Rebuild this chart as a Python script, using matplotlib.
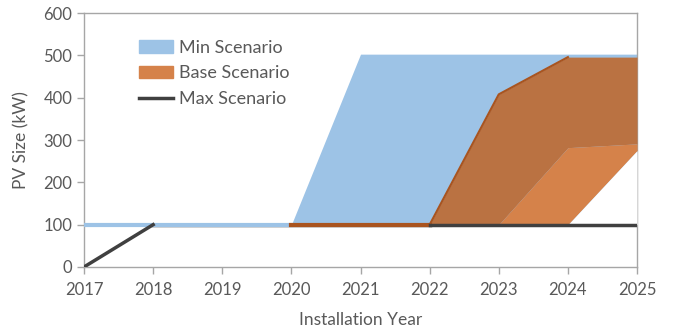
import numpy as np
import matplotlib.pyplot as plt

plt.rcParams['font.family'] = ['Lato', 'DejaVu Sans']

years = np.arange(2017, 2026)
# Min scenario (blue area, starts at 100 kW)
min_scenario = [100, 100, 100, 100, 503, 503, 503, 503, 503]
# Base scenario bands
base_high = [np.nan, np.nan, np.nan, 100, 100, 100, 408, 496, 496]
base_mid = [np.nan, np.nan, np.nan, 100, 100, 100, 100, 282, 291]
base_low = [np.nan, np.nan, np.nan, 100, 100, 100, 100, 100, 275]
# Max scenario (line)
max_scenario = [0, 100, 100, 100, 100, 100, 100, 100, 100]

blue = '#9DC3E6'
orange = '#D5824A'
brown = '#BA7242'
line_brown = '#A9541F'
dark = '#404040'
grey = '#595959'

fig = plt.figure(figsize=(6.79, 3.36), dpi=100)
ax = fig.add_axes([0.1237, 0.2054, 0.8145, 0.7556])

base = np.array([100] * len(years))
ax.fill_between(years, base, min_scenario, color=blue, lw=0, zorder=2)
ax.plot(years[:4], min_scenario[:4], color=blue, lw=3, zorder=3)

bh = np.array(base_high, float)
bm = np.array(base_mid, float)
bl = np.array(base_low, float)
ax.fill_between(years, bm, bh, color=brown, lw=0, zorder=4)
ax.fill_between(years, bl, bm, color=orange, lw=0, zorder=4)
ax.fill_between(years, base, bl, color='white', lw=0, zorder=4)
ax.plot(years[5:8], bh[5:8], color=line_brown, lw=1.5, zorder=5)
ax.plot(years[3:6], bh[3:6], color=line_brown, lw=3, zorder=5)

ax.plot(years[:2], max_scenario[:2], color=dark, lw=2.5, zorder=6)
ax.plot(years[5:], max_scenario[5:], color=dark, lw=2.5, zorder=6)
ax.plot(years[1:6], max_scenario[1:6], color=dark, lw=2.5, zorder=1)

ax.set_xlim(2017, 2025)
ax.set_ylim(0, 600)
ax.set_xticks(years)
ax.set_yticks(range(0, 601, 100))
ax.tick_params(colors='#A6A6A6', labelcolor=grey, labelsize=12, length=5, width=1)
ax.tick_params(axis='x', pad=6)
for s in ax.spines.values():
    s.set_color('#A6A6A6')
    s.set_linewidth(1)

ax.set_xlabel('Installation Year', fontsize=12.5, color=grey, labelpad=10)
ax.set_ylabel('PV Size (kW)', fontsize=12.5, color=grey, labelpad=10)

handles = [
    plt.Rectangle((0, 0), 1, 1, color=blue),
    plt.Rectangle((0, 0), 1, 1, color=orange),
    plt.Line2D([], [], color=dark, lw=2.5),
]
ax.legend(handles, ['Min Scenario', 'Base Scenario', 'Max Scenario'],
          loc='upper left', bbox_to_anchor=(0.07, 0.96), frameon=False,
          fontsize=13, labelcolor=grey, handlelength=1.9, handleheight=0.7,
          handletextpad=0.3, labelspacing=0.55)

fig.savefig('out.png', dpi=100)
